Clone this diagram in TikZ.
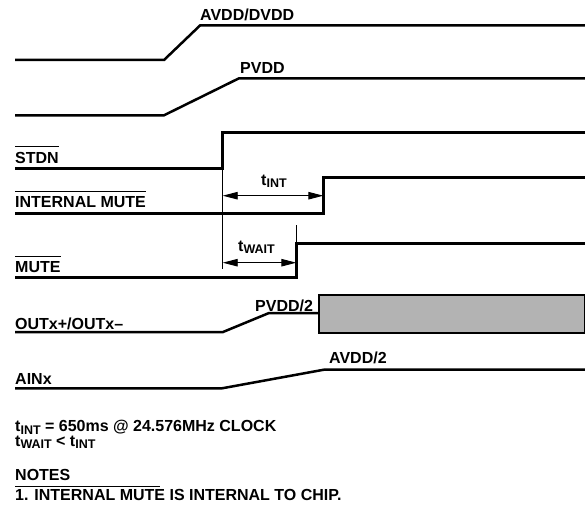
\documentclass[tikz,border=0pt]{standalone}
\usepackage{fontspec}
\setmainfont{Liberation Sans}
\usepackage{tikz}
\usetikzlibrary{arrows.meta}
\definecolor{boxgray}{HTML}{B3B3B3}
\newcommand\ovr[1]{\vbox{\hrule height 0.9pt\kern 4.6pt\hbox{#1}}}
\newcommand\tsig[1]{t\raisebox{-2.5pt}{\fontsize{12.5}{12}\selectfont #1}}

\begin{document}
\begin{tikzpicture}[x=1pt, y=-1pt,
    sig/.style={line width=2.5pt},
    dim/.style={line width=0.9pt},
    dimarrow/.style={dim, {Triangle[length=15pt,width=7.5pt]}-{Triangle[length=15pt,width=7.5pt]}},
    lbl/.style={anchor=base west, inner sep=0pt, font=\fontsize{16}{17}\selectfont\bfseries}]
  \useasboundingbox (0,0) rectangle (585,508);

  \draw[sig] (15,60) -- (164,60) -- (200,25.5) -- (585,25.5);
  \node[lbl] (avdd) at (200,20.5) {AVDD/DVDD};

  \draw[sig] (15,115.3) -- (164,115.3) -- (239,78.3) -- (585,78.3);
  \node[lbl] (pvdd) at (240,73.5) {PVDD};

  \draw[sig] (15,168.3) -- (222.7,168.3) -- (222.7,132.7) -- (585,132.7);
  \node[lbl] (stdn) at (15,163) {\ovr{STDN}};

  \draw[sig] (15,213.3) -- (323.3,213.3) -- (323.3,177.7) -- (585,177.7);
  \node[lbl] (intmute) at (15,207.5) {\ovr{INTERNAL MUTE}};

  \draw[sig] (15,277.3) -- (296.3,277.3) -- (296.3,243.7) -- (585,243.7);
  \node[lbl] (mute) at (15,272.5) {\ovr{MUTE}};

  \coordinate (stdnedge) at (222.7,168.3);
  \coordinate (stdnext) at (222.7,268.5);
  \coordinate (muteedge) at (296.3,243.7);
  \coordinate (muteext) at (296.3,225);
  \coordinate (intstart) at (222.7,195.7);
  \coordinate (intend) at (323.3,195.7);
  \coordinate (waitstart) at (222.7,262.7);
  \coordinate (waitend) at (296.3,262.7);
  \draw[dim] (stdnedge) -- (stdnext);
  \draw[dim] (muteedge) -- (muteext);
  \draw[dimarrow] (intstart) -- (intend);
  \draw[dimarrow] (waitstart) -- (waitend);
  \node[lbl] (tint) at (261,185) {\tsig{INT}};
  \node[lbl] (twait) at (238,251) {\tsig{WAIT}};

  \draw[sig] (15,332) -- (223,332) -- (269,313) -- (319,313);
  \draw[sig, fill=boxgray] (319,295) rectangle (585,333);
  \node[lbl] (outx) at (15,329) {OUTx+/OUTx\textendash};
  \node[lbl] (pvddhalf) at (255,311) {PVDD/2};

  \draw[sig] (15,388.3) -- (222,388.3) -- (325,369.5) -- (585,369.5);
  \node[lbl] (ainx) at (15,384) {AINx};
  \node[lbl] (avddhalf) at (329,363.3) {AVDD/2};

  \node[lbl] (tintdef) at (15,431.5) {\tsig{INT} = 650ms @ 24.576MHz CLOCK};
  \node[lbl] (twaitdef) at (15,446) {\tsig{WAIT} < \tsig{INT}};
  \node[lbl] (notes) at (15,480) {NOTES};
  \draw[line width=1pt] (notes.base west) ++(0,6.7) -- ++(145,0);
  \node[lbl] (note1) at (15,500.7) {1. INTERNAL MUTE IS INTERNAL TO CHIP.};
\end{tikzpicture}
\end{document}
